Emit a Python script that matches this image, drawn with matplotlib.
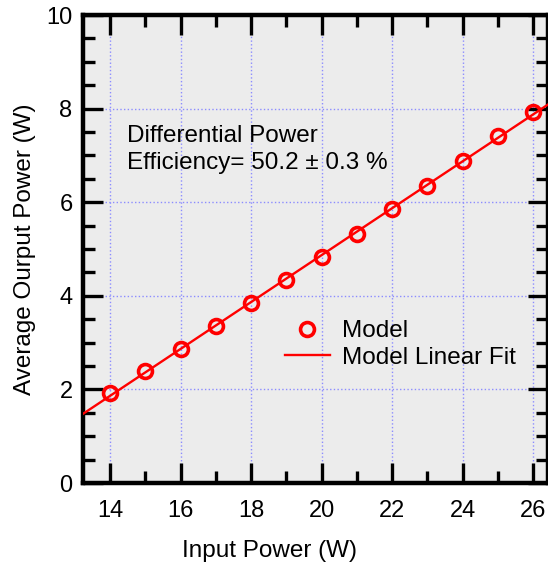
import numpy as np
import matplotlib.pyplot as plt
from matplotlib.ticker import MultipleLocator

plt.rcParams['font.family'] = ['Liberation Sans', 'DejaVu Sans']

# measured output vs. input power
input_power = [14, 15, 16, 17, 18, 19, 20, 21, 22, 23, 24, 25, 26]
output_power = [1.92, 2.40, 2.87, 3.35, 3.85, 4.33, 4.83, 5.33, 5.85, 6.35, 6.88, 7.42, 7.93]

efficiency_lines = ["Differential Power", "Efficiency= 50.2 \u00b1 0.3 %"]

W, H = 548, 564
AX_L, AX_B, AX_W, AX_H = 83, 483, 465, 468   # axes box in pixels (left, bottom from top)


def plotOutputPower():
    fig = plt.figure(figsize=(W / 100, H / 100), dpi=100)
    ax = fig.add_axes([AX_L / W, 1 - AX_B / H, AX_W / W, AX_H / H])
    ax.set_facecolor('#ececec')

    xlim = (13.23, 26.42)
    ax.set_xlim(*xlim)
    ax.set_ylim(0, 10)

    # linear fit across the full axis range
    slope, intercept = np.polyfit(input_power, output_power, 1)
    xfit = np.array(xlim)
    ax.plot(xfit, slope * xfit + intercept, color='red', lw=1.7,
            label='Model Linear Fit', zorder=3)
    ax.plot(input_power, output_power, 'o', ms=10, mfc='none', mec='red',
            mew=2.6, label='Model', zorder=4)

    ax.xaxis.set_major_locator(MultipleLocator(2))
    ax.xaxis.set_minor_locator(MultipleLocator(1))
    ax.yaxis.set_major_locator(MultipleLocator(2))
    ax.yaxis.set_minor_locator(MultipleLocator(0.5))
    ax.tick_params(which='both', direction='in', top=True, right=True,
                   width=2.4, labelsize=17)
    ax.tick_params(which='major', length=14.4)
    ax.tick_params(which='minor', length=8.6)
    ax.tick_params(axis='x', pad=12)
    ax.tick_params(axis='y', pad=7.5)
    for s in ax.spines.values():
        s.set_linewidth(3.2)

    ax.grid(True, which='major', color='#8c8cff', linestyle=':', lw=1)
    ax.set_axisbelow(True)

    ax.set_xlabel('Input Power (W)', fontsize=17.5, va='baseline')
    ax.xaxis.set_label_coords((270 - AX_L) / AX_W, (AX_B - 557) / AX_H)
    ax.set_ylabel('Average Ourput Power (W)', fontsize=17.5, va='baseline')
    ax.yaxis.set_label_coords((31 - AX_L) / AX_W, 0.5)

    for i, line in enumerate(efficiency_lines):
        ax.text(127, H - 142 - 27 * i, line, transform=None, fontsize=17.5,
                va='baseline')

    handles, labels = ax.get_legend_handles_labels()
    ax.legend(handles[::-1], labels[::-1], loc='upper left',
              bbox_to_anchor=((285 - AX_L) / AX_W, (AX_B - 320) / AX_H),
              frameon=False, fontsize=17.5, handlelength=1.85,
              handletextpad=0.5, labelspacing=0.2, borderpad=0,
              borderaxespad=0)

    fig.savefig('out.png', dpi=100)


if __name__ == "__main__":
    plotOutputPower()
